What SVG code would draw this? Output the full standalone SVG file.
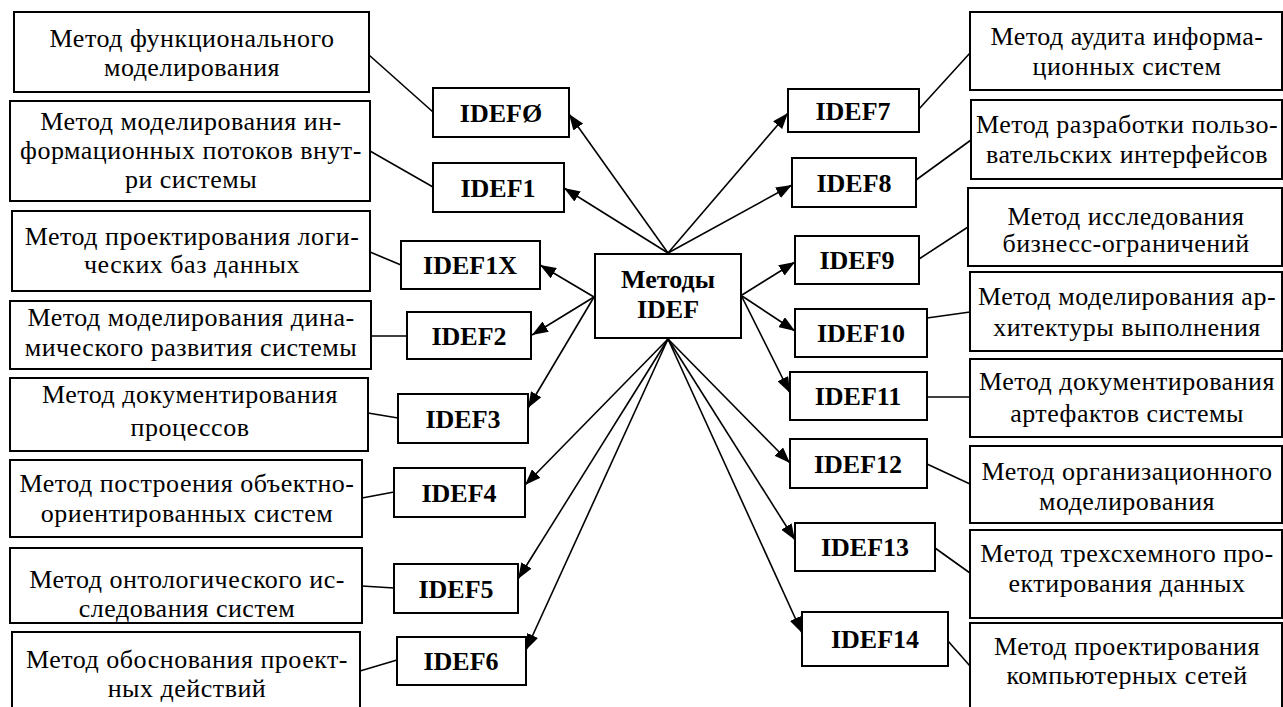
<svg xmlns="http://www.w3.org/2000/svg" width="1283" height="707" viewBox="0 0 1283 707">
<style>
.box{fill:#fff;stroke:#000;stroke-width:2}
.desc{font-family:'Liberation Serif','Times New Roman',Times,'DejaVu Serif',serif;font-size:26px;letter-spacing:0.5px;text-anchor:middle;fill:#000}
.lbl{font-family:'Liberation Serif','Times New Roman',Times,'DejaVu Serif',serif;font-size:26px;font-weight:bold;text-anchor:middle;fill:#000}
.ln{stroke:#000;stroke-width:1.6;fill:none}
.ar{stroke:#000;stroke-width:1.6;fill:none;marker-end:url(#ah)}
</style>
<defs>
<marker id="ah" markerUnits="userSpaceOnUse" markerWidth="16" markerHeight="12" refX="16" refY="6" orient="auto">
<path d="M0,0 L16,6 L0,12 z" fill="#000"/>
</marker>
</defs>
<rect width="1283" height="707" fill="#fff"/>

<g id="connectors">
<line class="ar" x1="668" y1="253" x2="569" y2="114"/>
<line class="ar" x1="668" y1="253" x2="564" y2="188"/>
<line class="ar" x1="594" y1="297" x2="540" y2="265"/>
<line class="ar" x1="594" y1="297" x2="532" y2="335"/>
<line class="ar" x1="594" y1="297" x2="528" y2="408"/>
<line class="ar" x1="668" y1="339" x2="525" y2="485"/>
<line class="ar" x1="668" y1="339" x2="518" y2="579"/>
<line class="ar" x1="668" y1="339" x2="526" y2="650"/>
<line class="ar" x1="668" y1="253" x2="788" y2="113"/>
<line class="ar" x1="668" y1="253" x2="792" y2="185"/>
<line class="ar" x1="742" y1="295" x2="795" y2="262"/>
<line class="ar" x1="742" y1="296" x2="795" y2="331"/>
<line class="ar" x1="742" y1="297" x2="790" y2="393"/>
<line class="ar" x1="668" y1="339" x2="790" y2="463"/>
<line class="ar" x1="668" y1="339" x2="795" y2="540"/>
<line class="ar" x1="668" y1="339" x2="802" y2="633"/>
<line class="ln" x1="369" y1="55" x2="433" y2="112"/>
<line class="ln" x1="370" y1="151" x2="433" y2="187"/>
<line class="ln" x1="370" y1="252" x2="401" y2="265"/>
<line class="ln" x1="371" y1="336" x2="407" y2="336"/>
<line class="ln" x1="368" y1="413" x2="398" y2="418"/>
<line class="ln" x1="362" y1="498" x2="394" y2="492"/>
<line class="ln" x1="362" y1="586" x2="394" y2="588"/>
<line class="ln" x1="360" y1="671" x2="397" y2="660"/>
<line class="ln" x1="919" y1="109" x2="970" y2="53"/>
<line class="ln" x1="916" y1="180" x2="971" y2="140"/>
<line class="ln" x1="919" y1="259" x2="968" y2="227"/>
<line class="ln" x1="927" y1="318" x2="970" y2="312"/>
<line class="ln" x1="927" y1="397" x2="970" y2="397"/>
<line class="ln" x1="927" y1="464" x2="970" y2="484"/>
<line class="ln" x1="935" y1="548" x2="970" y2="573"/>
<line class="ln" x1="948" y1="641" x2="970" y2="666"/>
</g>

<g id="center">
<rect class="box" x="595" y="254" width="146" height="84"/>
<text class="lbl" x="668" y="288">Методы</text>
<text class="lbl" x="668" y="318">IDEF</text>
</g>

<g id="idef0"><rect class="box" x="433" y="88" width="136" height="49"/><text class="lbl" x="501" y="122">IDEFØ</text></g>
<g id="idef1"><rect class="box" x="433" y="163" width="131" height="49"/><text class="lbl" x="498" y="197">IDEF1</text></g>
<g id="idef1x"><rect class="box" x="401" y="241" width="139" height="48"/><text class="lbl" x="470" y="274">IDEF1X</text></g>
<g id="idef2"><rect class="box" x="407" y="312" width="124" height="47"/><text class="lbl" x="469" y="345">IDEF2</text></g>
<g id="idef3"><rect class="box" x="398" y="394" width="130" height="49"/><text class="lbl" x="463" y="428">IDEF3</text></g>
<g id="idef4"><rect class="box" x="394" y="468" width="131" height="49"/><text class="lbl" x="459" y="502">IDEF4</text></g>
<g id="idef5"><rect class="box" x="394" y="564" width="124" height="49"/><text class="lbl" x="456" y="598">IDEF5</text></g>
<g id="idef6"><rect class="box" x="397" y="637" width="129" height="48"/><text class="lbl" x="461" y="670">IDEF6</text></g>
<g id="idef7"><rect class="box" x="788" y="89" width="131" height="43"/><text class="lbl" x="853" y="120">IDEF7</text></g>
<g id="idef8"><rect class="box" x="792" y="158" width="124" height="49"/><text class="lbl" x="854" y="192">IDEF8</text></g>
<g id="idef9"><rect class="box" x="795" y="236" width="124" height="48"/><text class="lbl" x="857" y="269">IDEF9</text></g>
<g id="idef10"><rect class="box" x="795" y="309" width="132" height="48"/><text class="lbl" x="861" y="342">IDEF10</text></g>
<g id="idef11"><rect class="box" x="790" y="372" width="137" height="48"/><text class="lbl" x="858" y="405">IDEF11</text></g>
<g id="idef12"><rect class="box" x="790" y="439" width="137" height="49"/><text class="lbl" x="858" y="473">IDEF12</text></g>
<g id="idef13"><rect class="box" x="795" y="523" width="140" height="48"/><text class="lbl" x="865" y="556">IDEF13</text></g>
<g id="idef14"><rect class="box" x="802" y="612" width="146" height="54"/><text class="lbl" x="875" y="648">IDEF14</text></g>

<g id="d0"><rect class="box" x="14" y="12" width="355" height="80"/><text class="desc" x="192" y="47">Метод функционального</text><text class="desc" x="192" y="76">моделирования</text></g>
<g id="d1"><rect class="box" x="10" y="101" width="360" height="100"/><text class="desc" x="191" y="130">Метод моделирования ин-</text><text class="desc" x="191" y="159">формационных потоков внут-</text><text class="desc" x="191" y="188">ри системы</text></g>
<g id="d1x"><rect class="box" x="12" y="211" width="358" height="80"/><text class="desc" x="192" y="245">Метод проектирования логи-</text><text class="desc" x="192" y="273">ческих баз данных</text></g>
<g id="d2"><rect class="box" x="10" y="301" width="361" height="68"/><text class="desc" x="191" y="326">Метод моделирования дина-</text><text class="desc" x="191" y="356">мического развития системы</text></g>
<g id="d3"><rect class="box" x="10" y="378" width="358" height="73"/><text class="desc" x="190" y="403">Метод документирования</text><text class="desc" x="190" y="436">процессов</text></g>
<g id="d4"><rect class="box" x="10" y="460" width="352" height="77"/><text class="desc" x="187" y="492">Метод построения объектно-</text><text class="desc" x="187" y="522">ориентированных систем</text></g>
<g id="d5"><rect class="box" x="10" y="548" width="352" height="75"/><text class="desc" x="187" y="588">Метод онтологического ис-</text><text class="desc" x="187" y="617">следования систем</text></g>
<g id="d6"><rect class="box" x="12" y="632" width="348" height="76"/><text class="desc" x="187" y="668">Метод обоснования проект-</text><text class="desc" x="187" y="697">ных действий</text></g>

<g id="d7"><rect class="box" x="970" y="12" width="312" height="78"/><text class="desc" x="1127" y="45">Метод аудита информа-</text><text class="desc" x="1127" y="75">ционных систем</text></g>
<g id="d8"><rect class="box" x="971" y="100" width="311" height="79"/><text class="desc" x="1127" y="133">Метод разработки пользо-</text><text class="desc" x="1127" y="163">вательских интерфейсов</text></g>
<g id="d9"><rect class="box" x="968" y="188" width="314" height="78"/><text class="desc" x="1126" y="225">Метод исследования</text><text class="desc" x="1126" y="252">бизнесс-ограничений</text></g>
<g id="d10"><rect class="box" x="970" y="272" width="312" height="79"/><text class="desc" x="1127" y="305">Метод моделирования ар-</text><text class="desc" x="1127" y="336">хитектуры выполнения</text></g>
<g id="d11"><rect class="box" x="970" y="359" width="312" height="78"/><text class="desc" x="1127" y="390">Метод документирования</text><text class="desc" x="1127" y="422">артефактов системы</text></g>
<g id="d12"><rect class="box" x="970" y="446" width="312" height="77"/><text class="desc" x="1127" y="480">Метод организационного</text><text class="desc" x="1127" y="510">моделирования</text></g>
<g id="d13"><rect class="box" x="970" y="530" width="312" height="88"/><text class="desc" x="1127" y="562">Метод трехсхемного про-</text><text class="desc" x="1127" y="592">ектирования данных</text></g>
<g id="d14"><rect class="box" x="970" y="623" width="312" height="85"/><text class="desc" x="1127" y="655">Метод проектирования</text><text class="desc" x="1127" y="684">компьютерных сетей</text></g>
</svg>
